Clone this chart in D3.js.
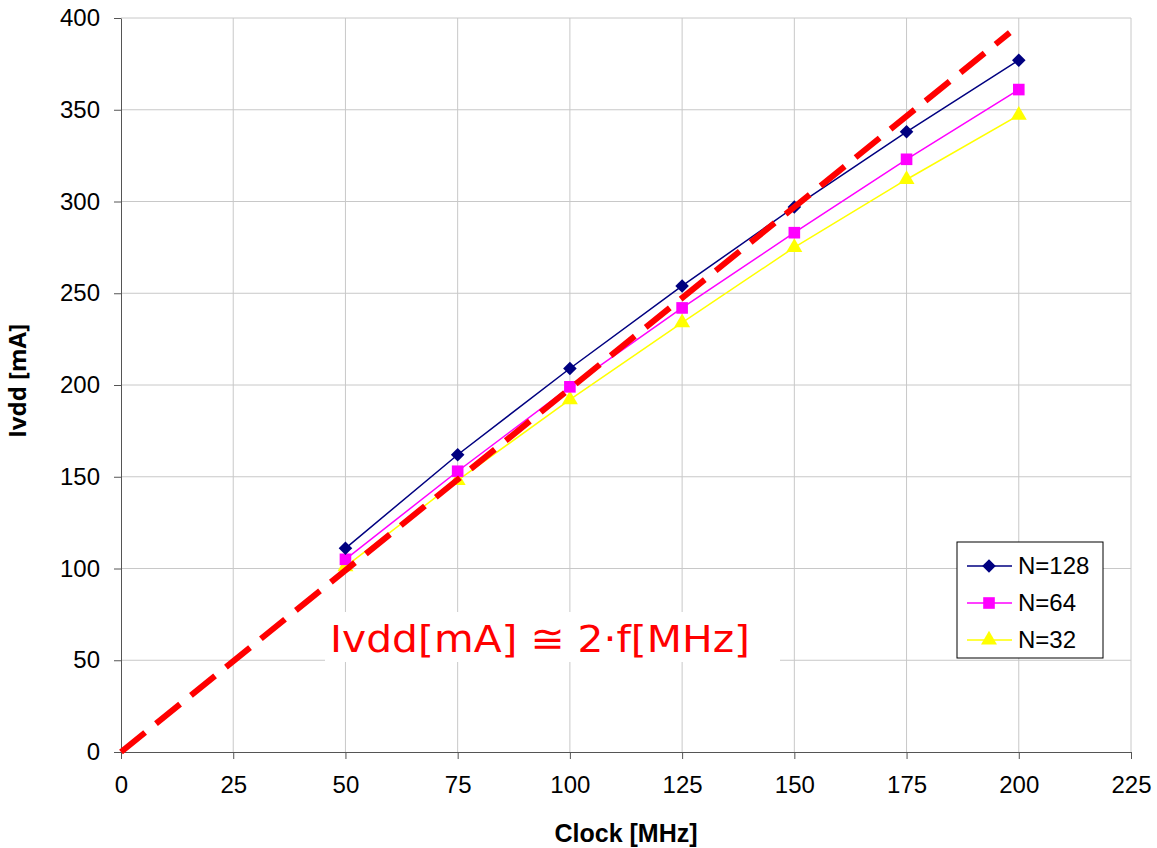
<!DOCTYPE html>
<html lang="en">
<head>
  <meta charset="UTF-8">
  <title>Ivdd vs Clock</title>
  <script src="https://d3js.org/d3.v7.min.js"></script>
  <style>
    body { margin: 0; background: #fff; }
    .tick text { font: 24px "Liberation Sans", Arial, sans-serif; fill: #000; }
    .axis path, .axis line { stroke: #555; }
  </style>
</head>
<body>
  <script>
    // data
    var clock = [50, 75, 100, 125, 150, 175, 200]
    var n128 = [111, 162, 209, 254, 297, 338, 377]
    var n64 = [105, 153, 199, 242, 283, 323, 361]
    var n32 = [101, 148, 192, 234, 275, 312, 347]
    var fitLine = [[0, 0], [198, 392]]
    var xTicks = d3.range(0, 226, 25)
    var yTicks = d3.range(0, 401, 50)

    var w = 1157, h = 848
    var margin = { top: 18, right: 26, bottom: 96, left: 121 }
    var width = w - margin.left - margin.right
    var height = h - margin.top - margin.bottom

    var x = d3.scaleLinear().domain([0, 225]).range([0, width])
    var y = d3.scaleLinear().domain([0, 400]).range([height, 0])

    var svg = d3.select("body").append("svg")
      .attr("width", w)
      .attr("height", h)
      .append("g")
      .attr("transform", "translate(" + margin.left + "," + margin.top + ")")

    // grid
    svg.append("g").selectAll("line").data(xTicks.slice(1)).enter().append("line")
      .attr("x1", function (d) { return x(d) }).attr("x2", function (d) { return x(d) })
      .attr("y1", 0).attr("y2", height)
      .attr("stroke", "#c8c8c8").attr("stroke-width", 1)
    svg.append("g").selectAll("line").data(yTicks.slice(1)).enter().append("line")
      .attr("x1", 0).attr("x2", width)
      .attr("y1", function (d) { return y(d) }).attr("y2", function (d) { return y(d) })
      .attr("stroke", "#c8c8c8").attr("stroke-width", 1)

    // axes
    svg.append("g").attr("class", "axis")
      .attr("transform", "translate(0," + height + ")")
      .call(d3.axisBottom(x).tickValues(xTicks).tickSize(7).tickPadding(17).tickSizeOuter(0))
    svg.append("g").attr("class", "axis")
      .call(d3.axisLeft(y).tickValues(yTicks).tickSize(7).tickPadding(14).tickSizeOuter(0))

    svg.append("text")
      .attr("x", x(112.5)).attr("y", height + 90)
      .attr("text-anchor", "middle")
      .attr("font-family", "'Liberation Sans', Arial, sans-serif")
      .attr("font-weight", "bold").attr("font-size", 25)
      .text("Clock [MHz]")
    svg.append("text")
      .attr("transform", "translate(" + (-95) + "," + (381 - margin.top) + ") rotate(-90)")
      .attr("text-anchor", "middle")
      .attr("font-family", "'Open Sans', 'DejaVu Sans', sans-serif")
      .attr("font-weight", "bold").attr("font-size", 24)
      .text("Ivdd [mA]")

    var series = [
      { name: "N=128", values: n128, color: "#000080", shape: d3.symbolSquare, size: 92, rot: 45 },
      { name: "N=64", values: n64, color: "#ff00ff", shape: d3.symbolSquare, size: 135, rot: 0 },
      { name: "N=32", values: n32, color: "#ffff00", shape: d3.symbolTriangle, size: 110, rot: 0 }
    ]

    var line = d3.line()
      .x(function (d) { return x(d[0]) })
      .y(function (d) { return y(d[1]) })

    // draw back to front
    series.slice().reverse().forEach(function (s) {
      var pts = clock.map(function (c, i) { return [c, s.values[i]] })
      svg.append("path").datum(pts)
        .attr("d", line)
        .attr("fill", "none").attr("stroke", s.color).attr("stroke-width", 1.5)
      svg.append("g").selectAll("path").data(pts).enter().append("path")
        .attr("transform", function (d) { return "translate(" + x(d[0]) + "," + y(d[1]) + ") rotate(" + s.rot + ")" })
        .attr("d", d3.symbol().type(s.shape).size(s.size))
        .attr("fill", s.color)
    })

    // fitted line
    svg.append("path").datum(fitLine)
      .attr("d", line)
      .attr("fill", "none").attr("stroke", "#ff0000")
      .attr("stroke-width", 6).attr("stroke-dasharray", "31,14")

    // annotation
    svg.append("rect")
      .attr("x", 325 - margin.left).attr("y", 612 - margin.top)
      .attr("width", 455).attr("height", 50)
      .attr("fill", "#fff")
    svg.append("text")
      .attr("x", 330 - margin.left).attr("y", 652 - margin.top)
      .attr("fill", "#ff0000")
      .attr("font-family", "'DejaVu Sans', sans-serif")
      .attr("font-size", 38)
      .attr("textLength", 420).attr("lengthAdjust", "spacingAndGlyphs")
      .text("Ivdd[mA] \u2245 2\u00b7f[MHz]")

    // legend
    var lg = svg.append("g")
      .attr("transform", "translate(" + (957 - margin.left) + "," + (542 - margin.top) + ")")
    lg.append("rect").attr("width", 146).attr("height", 116)
      .attr("fill", "#fff").attr("stroke", "#000").attr("stroke-width", 1)
    series.forEach(function (s, i) {
      var cy = 24 + i * 37
      lg.append("line").attr("x1", 10).attr("x2", 55).attr("y1", cy).attr("y2", cy)
        .attr("stroke", s.color).attr("stroke-width", 1.5)
      lg.append("path").attr("transform", "translate(32," + cy + ") rotate(" + s.rot + ")")
        .attr("d", d3.symbol().type(s.shape).size(s.size)).attr("fill", s.color)
      lg.append("text").attr("x", 61).attr("y", cy + 8)
        .attr("font-family", "'Liberation Sans', Arial, sans-serif").attr("font-size", 24)
        .text(s.name)
    })
  </script>
</body>
</html>
